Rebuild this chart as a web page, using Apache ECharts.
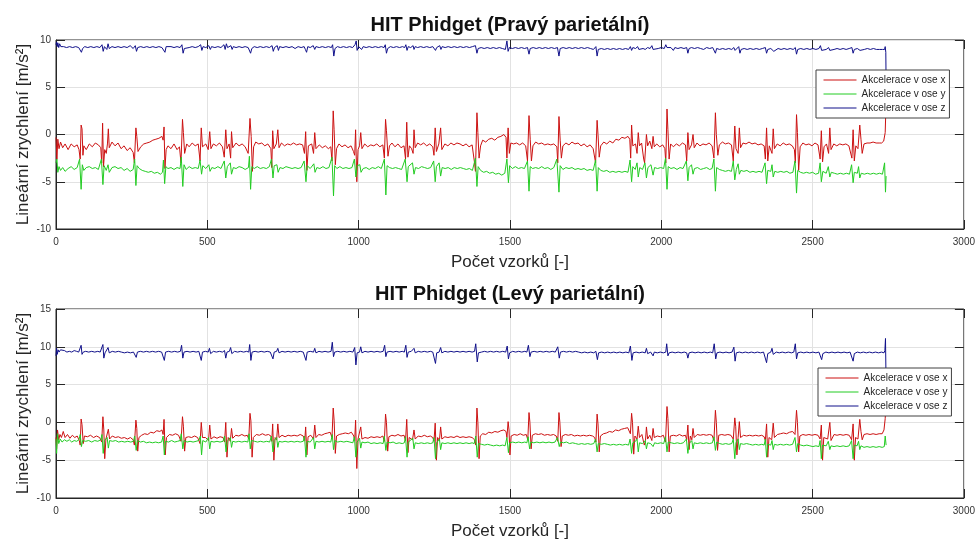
<!DOCTYPE html>
<html><head><meta charset="utf-8">
<script src="https://cdn.jsdelivr.net/npm/echarts@6/dist/echarts.min.js"></script>
<style>html,body{margin:0;padding:0;background:#fff}#c{width:978px;height:542px}</style>
</head><body><div id="c"></div>
<script>
// ---- labels ----
const TITLES = ['HIT Phidget (Pravý parietální)', 'HIT Phidget (Levý parietální)'];
const SERIES_NAMES = ['Akcelerace v ose x', 'Akcelerace v ose y', 'Akcelerace v ose z'];
const X_NAME = 'Počet vzorků [-]';
const Y_NAME = 'Lineární zrychlení [m/s²]';
const X_TICKS = [0, 500, 1000, 1500, 2000, 2500, 3000];
const Y_TICKS_TOP = [-10, -5, 0, 5, 10];
const Y_TICKS_BOT = [-10, -5, 0, 5, 10, 15];

// ---- top panel (Pravý parietální): [sample, value] ----
const TOP_X = [[0,-0.3],[3,-2.6],[6,-0.5],[10,-1.5],[15,-0.8],[22,-1.4],[30,-1.0],[40,-1.6],[50,-1.0],[60,-1.3],[70,-1.1],[76,-1.6],[80,-2.6],[83,1.0],[86,0.6],[89,-2.2],[92,-1.2],[100,-1.6],[110,-1.0],[120,-1.3],[130,-0.9],[140,-1.1],[148,-1.4],[151,-3.0],[154,1.2],[157,-3.4],[161,-1.6],[166,-2.0],[170,-1.0],[173,0.6],[176,-1.4],[185,-0.8],[195,-1.2],[205,-0.9],[215,-1.5],[225,-1.2],[235,-1.7],[245,-1.4],[255,-1.9],[259,-3.0],[264,0.7],[267,-0.2],[271,-1.8],[280,-1.3],[290,-1.0],[300,-0.9],[310,-0.8],[320,-0.6],[330,-0.5],[340,-0.4],[350,-0.2],[354,-0.6],[357,0.8],[360,-3.6],[364,-1.6],[370,-1.2],[380,-1.5],[390,-1.0],[400,-1.6],[408,-1.3],[413,-3.0],[418,1.6],[421,0.2],[425,-2.0],[432,-1.0],[440,-1.3],[450,-0.9],[460,-1.2],[470,-1.0],[476,-2.8],[480,0.7],[484,-1.3],[495,-1.0],[503,-1.6],[508,0.3],[512,-1.5],[520,-1.0],[530,-1.2],[540,-0.9],[550,-1.3],[556,-2.4],[561,0.5],[565,-1.5],[572,-1.0],[577,-2.5],[580,0.3],[584,-1.4],[595,-0.9],[605,-1.2],[615,-1.0],[625,-1.3],[635,-2.0],[641,1.7],[645,-0.2],[649,-3.9],[653,-1.3],[660,-0.8],[670,-1.0],[680,-0.9],[690,-1.2],[700,-1.0],[710,-1.5],[713,-3.5],[716,0.4],[720,-1.5],[728,-1.0],[733,0.5],[737,-1.4],[745,-0.9],[755,-1.2],[765,-1.0],[775,-1.1],[785,-0.9],[795,-1.1],[805,-1.0],[815,-1.1],[821,-2.0],[825,0.3],[829,-3.8],[834,-1.2],[845,-1.0],[851,-2.0],[855,0.2],[859,-1.5],[870,-1.1],[880,-1.4],[890,-1.2],[900,-1.5],[908,-1.3],[912,-2.8],[916,2.5],[919,0.5],[923,-3.2],[927,-1.5],[935,-1.0],[945,-1.3],[955,-1.1],[965,-1.4],[975,-1.2],[983,-1.8],[987,-2.2],[990,0.5],[994,-5.0],[998,-1.6],[1003,-1.2],[1007,0.2],[1011,-1.5],[1020,-1.0],[1030,-1.3],[1040,-1.1],[1050,-1.2],[1060,-1.0],[1070,-1.3],[1080,-1.1],[1085,-2.5],[1089,1.6],[1092,0.4],[1097,-2.3],[1102,-1.2],[1110,-0.9],[1120,-1.3],[1130,-1.0],[1140,-1.4],[1150,-1.2],[1155,-2.6],[1159,1.3],[1163,-2.4],[1168,-1.2],[1175,-1.5],[1180,-2.0],[1183,0.5],[1187,-1.4],[1195,-0.9],[1205,-1.1],[1215,-0.9],[1225,-1.2],[1235,-1.0],[1245,-1.3],[1249,-2.2],[1253,0.7],[1257,-1.8],[1265,-1.0],[1271,0.7],[1275,-1.6],[1285,-1.0],[1295,-1.2],[1305,-0.9],[1315,-1.1],[1325,-0.9],[1335,-1.0],[1345,-1.2],[1355,-1.0],[1365,-1.3],[1375,-1.1],[1383,-3.0],[1386,-3.9],[1391,2.3],[1394,0.2],[1398,-2.5],[1403,-1.2],[1410,-0.6],[1420,-0.8],[1430,-0.5],[1440,-0.4],[1450,-0.6],[1460,-0.3],[1470,-0.2],[1480,0.0],[1487,-0.3],[1490,-2.5],[1494,0.7],[1498,-2.0],[1503,-0.9],[1512,-1.0],[1522,-0.9],[1532,-1.1],[1542,-0.9],[1552,-1.2],[1558,-2.8],[1563,2.0],[1567,-0.5],[1571,-2.8],[1576,-1.2],[1585,-0.8],[1595,-1.0],[1605,-0.9],[1615,-1.1],[1625,-1.0],[1635,-1.1],[1645,-1.0],[1655,-1.3],[1658,-3.0],[1662,1.9],[1666,-0.6],[1670,-2.5],[1675,-1.2],[1685,-0.9],[1695,-1.1],[1705,-0.8],[1715,-1.0],[1725,-0.9],[1735,-1.2],[1745,-1.0],[1755,-1.3],[1765,-1.1],[1775,-1.5],[1783,-3.0],[1788,1.5],[1791,0.0],[1795,-2.4],[1800,-1.2],[1810,-0.8],[1820,-1.0],[1830,-0.7],[1840,-0.9],[1850,-0.5],[1860,-0.6],[1870,-0.3],[1880,-0.4],[1890,-0.2],[1896,-0.5],[1899,-2.5],[1902,1.0],[1906,-1.2],[1915,-1.0],[1920,-2.0],[1924,0.2],[1928,-1.2],[1935,-0.9],[1942,-2.6],[1945,-3.0],[1951,0.0],[1955,-1.2],[1962,-0.7],[1969,-1.5],[1973,-0.2],[1977,-1.3],[1985,-1.0],[1995,-1.3],[2005,-1.1],[2012,-1.5],[2015,-3.0],[2019,2.7],[2022,0.5],[2026,-2.6],[2031,-1.0],[2040,-1.3],[2050,-1.0],[2060,-1.2],[2070,-0.9],[2080,-1.1],[2084,-2.8],[2088,0.2],[2092,-1.6],[2100,-1.1],[2105,0.0],[2109,-1.4],[2118,-0.9],[2128,-1.2],[2138,-1.0],[2148,-1.1],[2158,-0.9],[2168,-1.2],[2174,-2.5],[2179,2.3],[2182,0.0],[2187,-2.2],[2192,-1.1],[2202,-0.8],[2212,-1.0],[2222,-0.9],[2232,-1.1],[2238,-2.8],[2243,0.9],[2247,-1.5],[2254,-2.0],[2258,0.7],[2262,-1.4],[2270,-0.9],[2280,-1.0],[2290,-0.8],[2300,-1.0],[2310,-0.9],[2320,-1.1],[2330,-1.0],[2340,-1.2],[2344,-2.6],[2348,0.7],[2352,-2.8],[2357,-1.2],[2366,-2.0],[2370,0.6],[2374,-1.5],[2383,-1.0],[2393,-1.2],[2403,-0.9],[2413,-1.1],[2423,-1.0],[2433,-1.2],[2440,-1.6],[2443,-3.0],[2447,2.1],[2450,0.2],[2454,-3.8],[2459,-1.3],[2468,-0.9],[2478,-1.1],[2488,-1.0],[2498,-1.2],[2508,-0.9],[2518,-1.1],[2525,-2.6],[2529,0.4],[2533,-2.9],[2538,-1.3],[2546,-1.0],[2553,-2.0],[2557,0.7],[2561,-1.6],[2570,-1.0],[2580,-1.2],[2590,-1.0],[2600,-1.1],[2610,-1.0],[2620,-1.2],[2630,-2.5],[2634,0.5],[2638,-2.8],[2643,-1.2],[2650,-1.5],[2656,1.0],[2660,-0.5],[2664,-2.0],[2670,-1.0],[2680,-0.9],[2690,-0.9],[2700,-0.8],[2710,-0.9],[2720,-0.9],[2728,-0.9],[2735,-0.7],[2740,0.2],[2743,3.5]];

const TOP_Y = [[0,-3.0],[3,-2.6],[6,-4.0],[10,-3.4],[15,-3.8],[22,-3.5],[30,-3.9],[40,-3.6],[50,-3.4],[60,-3.7],[70,-3.5],[78,-2.6],[83,-5.8],[87,-3.2],[92,-3.8],[100,-3.5],[110,-3.4],[120,-3.6],[130,-3.5],[140,-3.7],[150,-2.6],[155,-5.3],[159,-3.3],[166,-3.8],[172,-3.2],[176,-4.0],[185,-3.5],[195,-3.4],[205,-3.6],[215,-3.5],[225,-3.8],[235,-3.6],[245,-3.9],[255,-3.7],[260,-2.6],[264,-5.4],[268,-3.3],[275,-3.6],[285,-3.8],[295,-3.9],[305,-4.0],[315,-3.9],[325,-4.1],[335,-4.0],[345,-4.2],[352,-4.0],[355,-2.7],[359,-5.2],[363,-3.4],[370,-3.6],[380,-3.5],[390,-3.7],[400,-3.5],[410,-3.6],[414,-2.4],[419,-5.5],[423,-3.2],[430,-3.7],[440,-3.4],[450,-3.6],[460,-3.5],[470,-3.6],[476,-2.7],[481,-4.2],[485,-3.3],[495,-3.6],[505,-3.2],[509,-3.9],[515,-3.5],[525,-3.6],[535,-3.4],[545,-3.6],[556,-2.8],[561,-4.6],[566,-3.4],[576,-3.0],[580,-4.2],[586,-3.5],[595,-3.6],[605,-3.4],[615,-3.5],[625,-3.7],[636,-3.5],[639,-2.3],[643,-5.8],[647,-3.4],[655,-3.6],[665,-3.4],[675,-3.6],[685,-3.5],[695,-3.6],[705,-3.4],[712,-2.6],[717,-4.6],[721,-3.3],[730,-3.2],[734,-4.0],[740,-3.5],[750,-3.6],[760,-3.4],[770,-3.5],[780,-3.6],[790,-3.5],[800,-3.6],[810,-3.5],[820,-2.8],[826,-5.0],[830,-3.3],[840,-3.6],[852,-3.1],[856,-4.0],[862,-3.5],[872,-3.6],[882,-3.4],[892,-3.6],[902,-3.5],[912,-2.4],[917,-6.5],[921,-3.3],[928,-3.6],[938,-3.4],[948,-3.6],[958,-3.5],[968,-3.6],[978,-3.5],[986,-2.6],[991,-4.5],[995,-3.3],[1004,-3.2],[1008,-4.0],[1015,-3.6],[1025,-3.5],[1035,-3.7],[1045,-3.5],[1055,-3.6],[1065,-3.4],[1075,-3.6],[1085,-2.6],[1090,-6.4],[1094,-3.3],[1102,-3.5],[1112,-3.6],[1122,-3.5],[1132,-3.6],[1142,-3.7],[1154,-2.6],[1160,-5.0],[1164,-3.4],[1178,-3.0],[1183,-4.2],[1188,-3.5],[1198,-3.6],[1208,-3.4],[1218,-3.5],[1228,-3.6],[1238,-3.5],[1248,-2.8],[1253,-5.0],[1257,-3.4],[1266,-3.0],[1271,-4.4],[1276,-3.5],[1286,-3.6],[1296,-3.5],[1306,-3.7],[1316,-3.5],[1326,-3.6],[1336,-3.5],[1346,-3.6],[1356,-3.7],[1366,-3.6],[1376,-3.8],[1386,-2.5],[1391,-5.5],[1395,-3.4],[1403,-3.8],[1413,-4.0],[1423,-3.9],[1433,-4.1],[1443,-4.0],[1453,-4.2],[1463,-4.1],[1473,-4.3],[1483,-4.1],[1490,-2.6],[1495,-5.1],[1499,-3.3],[1508,-3.6],[1518,-3.4],[1528,-3.6],[1538,-3.5],[1548,-3.6],[1558,-2.8],[1563,-6.0],[1567,-3.4],[1575,-3.6],[1585,-3.5],[1595,-3.6],[1605,-3.4],[1615,-3.6],[1625,-3.5],[1635,-3.7],[1645,-3.5],[1655,-2.6],[1662,-6.1],[1666,-3.3],[1675,-3.7],[1685,-3.5],[1695,-3.6],[1705,-3.5],[1715,-3.7],[1725,-3.6],[1735,-3.7],[1745,-3.6],[1755,-3.8],[1765,-3.7],[1775,-3.8],[1783,-2.7],[1788,-6.0],[1792,-3.5],[1800,-3.8],[1810,-3.9],[1820,-3.8],[1830,-4.0],[1840,-3.9],[1850,-4.0],[1860,-3.9],[1870,-4.0],[1880,-3.9],[1890,-4.0],[1897,-2.7],[1902,-5.0],[1906,-3.4],[1914,-3.7],[1920,-3.0],[1924,-4.5],[1929,-3.5],[1938,-3.7],[1946,-3.0],[1951,-4.6],[1956,-3.5],[1966,-3.2],[1973,-4.3],[1978,-3.5],[1988,-3.6],[1998,-3.5],[2008,-3.6],[2014,-2.5],[2019,-5.8],[2023,-3.4],[2032,-3.6],[2042,-3.5],[2052,-3.7],[2062,-3.5],[2072,-3.6],[2083,-2.8],[2088,-4.9],[2092,-3.5],[2100,-3.2],[2105,-4.2],[2110,-3.6],[2120,-3.5],[2130,-3.7],[2140,-3.6],[2150,-3.5],[2160,-3.7],[2168,-3.6],[2174,-2.6],[2179,-6.0],[2183,-3.5],[2192,-3.7],[2202,-3.8],[2212,-3.9],[2222,-3.8],[2232,-3.9],[2238,-2.8],[2243,-4.8],[2248,-3.7],[2254,-3.1],[2258,-4.2],[2263,-3.8],[2273,-3.9],[2283,-3.8],[2293,-4.0],[2303,-3.9],[2313,-4.0],[2323,-3.9],[2333,-4.0],[2343,-3.0],[2348,-5.2],[2352,-3.8],[2362,-3.9],[2366,-3.2],[2370,-4.5],[2375,-3.9],[2385,-4.0],[2395,-3.9],[2405,-4.0],[2415,-3.9],[2425,-4.1],[2435,-4.0],[2442,-2.8],[2447,-6.2],[2451,-3.8],[2460,-4.0],[2470,-4.1],[2480,-4.0],[2490,-4.1],[2500,-4.0],[2510,-4.2],[2520,-4.1],[2525,-3.0],[2529,-5.0],[2534,-3.9],[2545,-4.1],[2552,-3.4],[2557,-4.5],[2562,-4.0],[2572,-4.1],[2582,-4.2],[2592,-4.1],[2602,-4.2],[2612,-4.1],[2622,-4.2],[2629,-3.2],[2634,-5.1],[2638,-4.0],[2648,-4.1],[2652,-3.4],[2656,-4.6],[2661,-4.1],[2671,-4.2],[2681,-4.1],[2691,-4.2],[2701,-4.1],[2711,-4.2],[2721,-4.1],[2731,-4.2],[2738,-3.0],[2741,-6.1],[2743,-4.4]];

const TOP_Z = [[0,9.5],[2,9.8],[4,9.3],[6,9.7],[9,9.2],[12,9.6],[16,9.3],[25,9.3],[35,9.2],[45,9.3],[55,9.2],[65,9.3],[75,9.2],[80,9.4],[84,8.7],[88,9.1],[95,9.3],[105,9.2],[115,9.3],[125,9.2],[135,9.3],[145,9.2],[152,9.5],[156,8.8],[160,9.3],[168,9.0],[172,9.6],[176,9.1],[185,9.3],[195,9.2],[205,9.3],[215,9.2],[225,9.3],[235,9.2],[245,9.4],[255,9.1],[262,9.4],[266,8.8],[270,9.2],[280,9.3],[290,9.2],[300,9.3],[310,9.2],[320,9.3],[330,9.2],[340,9.3],[350,9.2],[356,9.3],[360,8.7],[364,9.3],[370,9.2],[380,9.3],[390,9.2],[400,9.3],[410,9.2],[416,9.5],[420,8.6],[424,9.1],[430,9.3],[440,9.2],[450,9.3],[460,9.2],[470,9.3],[478,9.5],[482,8.9],[486,9.3],[495,9.2],[505,9.4],[510,9.0],[514,9.3],[525,9.2],[535,9.3],[545,9.2],[555,9.5],[559,9.0],[563,9.6],[567,9.2],[578,9.4],[582,9.0],[586,9.3],[595,9.2],[605,9.3],[615,9.2],[625,9.3],[635,9.2],[639,9.4],[643,8.6],[647,9.1],[655,9.3],[665,9.2],[675,9.3],[685,9.2],[695,9.3],[705,9.2],[714,9.4],[718,8.8],[722,9.2],[731,9.4],[735,8.9],[739,9.3],[750,9.2],[760,9.3],[770,9.2],[780,9.3],[790,9.1],[800,9.3],[810,9.2],[820,9.3],[824,9.0],[828,8.7],[832,9.3],[840,9.2],[850,9.4],[855,9.0],[859,9.3],[870,9.2],[880,9.3],[890,9.2],[900,9.3],[910,9.2],[914,9.5],[918,8.3],[922,9.1],[930,9.3],[940,9.2],[950,9.3],[960,9.2],[970,9.3],[980,9.2],[988,9.5],[992,9.9],[995,8.9],[1000,9.3],[1006,9.4],[1010,9.0],[1015,9.3],[1025,9.2],[1035,9.3],[1045,9.2],[1055,9.3],[1065,9.2],[1075,9.3],[1084,9.2],[1088,9.5],[1092,8.6],[1096,9.1],[1105,9.3],[1115,9.2],[1125,9.3],[1135,9.2],[1145,9.3],[1152,9.2],[1156,9.5],[1160,8.9],[1164,9.3],[1172,9.2],[1180,9.4],[1183,9.0],[1187,9.3],[1195,9.2],[1205,9.3],[1215,9.2],[1225,9.3],[1235,9.2],[1245,9.3],[1250,9.5],[1254,8.9],[1258,9.2],[1268,9.4],[1272,9.0],[1276,9.3],[1286,9.2],[1296,9.3],[1306,9.2],[1316,9.3],[1326,9.2],[1336,9.3],[1346,9.2],[1356,9.3],[1366,9.2],[1376,9.3],[1386,9.4],[1391,8.6],[1395,9.1],[1405,9.2],[1415,9.1],[1425,9.2],[1435,9.1],[1445,9.2],[1455,9.1],[1465,9.2],[1475,9.1],[1485,9.0],[1490,9.9],[1494,8.8],[1498,9.2],[1508,9.1],[1518,9.2],[1528,9.1],[1538,9.2],[1548,9.1],[1558,9.2],[1563,8.5],[1567,9.1],[1577,9.2],[1587,9.1],[1597,9.2],[1607,9.1],[1617,9.2],[1627,9.1],[1637,9.2],[1647,9.1],[1657,9.2],[1662,8.3],[1666,9.1],[1676,9.2],[1686,9.1],[1696,9.2],[1706,9.1],[1716,9.2],[1726,9.1],[1736,9.2],[1746,9.1],[1756,9.2],[1766,9.1],[1776,9.0],[1784,9.3],[1788,8.3],[1792,9.0],[1802,9.1],[1812,9.0],[1822,9.1],[1832,9.0],[1842,9.1],[1852,9.0],[1862,9.1],[1872,9.0],[1882,9.1],[1892,9.0],[1898,9.3],[1902,8.9],[1906,9.2],[1915,9.1],[1922,9.3],[1926,9.0],[1932,9.2],[1940,9.1],[1947,9.0],[1951,8.8],[1955,9.2],[1963,9.1],[1969,9.4],[1973,9.0],[1977,9.2],[1990,9.1],[2000,9.2],[2010,9.1],[2015,9.5],[2019,9.2],[2024,9.1],[2032,9.2],[2040,8.9],[2045,9.2],[2055,9.1],[2065,9.2],[2075,9.1],[2084,9.2],[2088,8.6],[2092,9.1],[2100,9.2],[2110,9.1],[2120,9.2],[2130,9.1],[2140,9.0],[2150,9.2],[2160,9.1],[2170,9.2],[2175,9.3],[2179,8.6],[2183,9.1],[2193,9.0],[2203,9.1],[2213,9.0],[2223,9.1],[2233,9.0],[2240,9.2],[2244,8.9],[2250,9.1],[2256,9.3],[2260,8.6],[2264,9.0],[2274,9.1],[2284,9.0],[2294,9.1],[2304,9.0],[2314,9.1],[2324,9.0],[2334,9.1],[2344,9.2],[2348,8.6],[2352,9.0],[2362,9.1],[2368,9.3],[2372,8.8],[2376,9.0],[2386,9.1],[2396,9.0],[2406,9.1],[2416,9.0],[2426,9.1],[2436,9.0],[2443,9.2],[2447,8.5],[2451,9.0],[2461,9.1],[2471,9.0],[2481,9.1],[2491,9.0],[2501,9.1],[2511,9.0],[2521,9.1],[2526,9.4],[2530,8.9],[2534,9.1],[2545,9.0],[2553,9.2],[2557,8.9],[2561,9.1],[2571,9.0],[2581,9.1],[2591,9.0],[2601,9.1],[2611,9.0],[2621,9.1],[2630,9.2],[2634,8.6],[2638,9.0],[2648,9.1],[2653,9.3],[2657,8.9],[2661,9.1],[2671,9.0],[2681,9.1],[2691,9.0],[2701,9.1],[2711,9.0],[2721,9.0],[2731,9.0],[2738,9.0],[2740,9.3],[2742,8.7],[2743,5.5]];

// ---- bottom panel (Levý parietální): [sample, value] ----
const BOT_X = [[0,-2.0],[2,-3.5],[5,-1.0],[9,-2.3],[13,-1.6],[18,-2.0],[24,-1.2],[30,-2.0],[38,-1.6],[46,-2.1],[54,-1.7],[62,-2.0],[70,-1.8],[77,-2.4],[80,-3.0],[83,0.45],[86,-0.3],[90,-2.8],[94,-1.8],[104,-1.9],[114,-1.7],[124,-2.0],[134,-1.8],[144,-2.0],[151,-2.6],[155,0.75],[158,-1.0],[161,-4.8],[165,-2.2],[170,-2.4],[173,-0.9],[177,-2.2],[186,-1.8],[196,-2.0],[206,-1.9],[216,-2.1],[226,-2.0],[236,-2.2],[246,-2.0],[255,-2.3],[259,-3.0],[264,0.3],[267,-0.8],[270,-3.8],[274,-2.0],[283,-1.7],[293,-1.5],[303,-1.6],[313,-1.3],[323,-1.4],[333,-1.1],[343,-1.2],[350,-1.0],[354,-1.6],[357,0.4],[361,-4.3],[365,-2.0],[375,-1.6],[385,-1.7],[395,-1.5],[405,-1.7],[413,-2.5],[418,0.75],[421,-0.5],[425,-3.8],[429,-2.0],[438,-1.9],[448,-2.0],[458,-1.8],[468,-2.0],[476,-2.8],[480,0.0],[484,-2.0],[494,-2.0],[504,-2.4],[508,-0.35],[512,-2.2],[522,-1.9],[532,-2.1],[542,-1.9],[552,-2.0],[557,-2.6],[561,0.0],[565,-4.6],[569,-2.0],[576,-2.5],[580,-0.8],[584,-2.1],[594,-1.7],[604,-1.8],[614,-1.6],[624,-1.8],[632,-1.7],[637,-2.2],[641,1.2],[644,0.2],[648,-4.6],[652,-2.0],[662,-1.6],[672,-1.7],[682,-1.5],[692,-1.7],[702,-1.6],[710,-1.8],[713,-2.5],[716,-0.2],[720,-5.0],[724,-2.0],[729,-2.3],[733,-0.2],[737,-2.0],[747,-1.7],[757,-1.9],[767,-1.7],[777,-1.8],[787,-1.7],[797,-1.8],[807,-1.6],[817,-1.8],[822,-2.4],[825,-0.6],[829,-4.3],[833,-1.9],[842,-1.7],[851,-2.2],[855,-0.35],[859,-2.0],[868,-1.6],[878,-1.7],[888,-1.5],[898,-1.4],[906,-1.3],[912,-2.0],[916,1.9],[919,0.3],[923,-4.1],[927,-1.8],[936,-1.6],[946,-1.5],[956,-1.4],[966,-1.5],[976,-1.3],[984,-1.8],[987,-2.4],[990,0.3],[994,-6.1],[998,-2.2],[1003,-2.4],[1007,-0.6],[1011,-2.2],[1021,-2.0],[1031,-2.1],[1041,-1.9],[1051,-2.0],[1061,-1.9],[1071,-2.0],[1080,-1.8],[1085,-2.5],[1089,1.1],[1092,0.0],[1096,-3.8],[1100,-1.9],[1110,-1.7],[1120,-1.8],[1130,-1.6],[1140,-1.8],[1150,-1.7],[1155,-2.4],[1159,0.4],[1163,-4.0],[1167,-2.0],[1178,-2.3],[1183,-1.0],[1187,-2.2],[1197,-1.8],[1207,-1.9],[1217,-1.7],[1227,-1.9],[1237,-1.8],[1245,-2.0],[1249,-2.5],[1253,-0.1],[1257,-5.0],[1261,-2.0],[1267,-2.4],[1271,-0.6],[1275,-2.2],[1285,-1.9],[1295,-2.0],[1305,-1.9],[1315,-2.0],[1325,-1.8],[1335,-2.0],[1345,-1.9],[1355,-2.0],[1365,-1.9],[1375,-2.0],[1383,-2.3],[1387,-3.0],[1391,1.9],[1394,0.0],[1398,-4.8],[1402,-1.8],[1410,-1.5],[1420,-1.6],[1430,-1.3],[1440,-1.4],[1450,-1.2],[1460,-1.3],[1470,-1.1],[1480,-1.0],[1487,-1.2],[1490,-2.0],[1494,0.1],[1497,-1.0],[1500,-4.3],[1504,-1.8],[1514,-1.6],[1524,-1.7],[1534,-1.5],[1544,-1.7],[1554,-1.6],[1559,-2.3],[1563,1.3],[1566,0.0],[1570,-3.5],[1574,-1.7],[1584,-1.5],[1594,-1.6],[1604,-1.5],[1614,-1.7],[1624,-1.6],[1634,-1.7],[1644,-1.6],[1653,-1.8],[1658,-2.5],[1662,1.3],[1665,0.0],[1669,-3.2],[1673,-1.8],[1683,-1.6],[1693,-1.7],[1703,-1.6],[1713,-1.8],[1723,-1.7],[1733,-1.8],[1743,-1.7],[1753,-1.8],[1763,-1.7],[1773,-1.8],[1780,-2.0],[1784,-2.6],[1788,1.1],[1791,-0.2],[1795,-3.9],[1799,-1.8],[1809,-1.5],[1819,-1.4],[1829,-1.2],[1839,-1.3],[1849,-1.0],[1859,-1.1],[1869,-0.9],[1879,-0.8],[1889,-0.7],[1895,-0.6],[1898,-1.5],[1902,1.2],[1905,0.0],[1909,-4.2],[1913,-1.8],[1920,-2.2],[1924,-0.5],[1928,-2.0],[1936,-1.6],[1944,-3.0],[1948,-2.4],[1951,-0.6],[1955,-2.2],[1962,-1.7],[1969,-2.4],[1973,-0.8],[1977,-2.0],[1987,-1.8],[1997,-1.9],[2007,-1.7],[2014,-2.6],[2019,2.1],[2022,0.5],[2026,-3.9],[2030,-1.8],[2040,-1.7],[2050,-1.8],[2060,-1.6],[2070,-1.8],[2080,-1.7],[2084,-2.3],[2088,-0.35],[2092,-3.6],[2096,-1.8],[2101,-2.3],[2105,-0.8],[2109,-2.0],[2119,-1.6],[2129,-1.7],[2139,-1.6],[2149,-1.7],[2159,-1.6],[2168,-1.7],[2174,-2.4],[2179,1.6],[2182,0.0],[2186,-3.7],[2190,-1.7],[2200,-1.6],[2210,-1.7],[2220,-1.6],[2230,-1.7],[2238,-2.2],[2243,0.6],[2246,-0.5],[2250,-4.3],[2254,-2.0],[2258,0.1],[2262,-2.0],[2272,-1.7],[2282,-1.8],[2292,-1.7],[2302,-1.8],[2312,-1.7],[2322,-1.8],[2332,-1.7],[2340,-1.9],[2344,-2.4],[2348,-0.2],[2352,-4.6],[2356,-2.0],[2365,-2.3],[2370,-0.1],[2374,-2.0],[2384,-1.6],[2394,-1.5],[2404,-1.4],[2414,-1.5],[2424,-1.3],[2434,-1.2],[2442,-1.6],[2447,1.6],[2450,0.0],[2454,-3.9],[2458,-1.8],[2468,-1.6],[2478,-1.7],[2488,-1.6],[2498,-1.7],[2508,-1.6],[2518,-1.7],[2525,-2.2],[2529,-0.35],[2533,-5.0],[2537,-2.0],[2550,-2.2],[2557,0.0],[2561,-2.4],[2571,-1.6],[2581,-1.7],[2591,-1.6],[2601,-1.7],[2611,-1.6],[2621,-1.7],[2629,-2.3],[2634,-0.2],[2638,-5.0],[2642,-2.0],[2650,-2.2],[2656,0.4],[2660,-1.2],[2664,-2.3],[2670,-1.6],[2680,-1.5],[2690,-1.6],[2700,-1.5],[2710,-1.6],[2720,-1.5],[2730,-1.5],[2736,-1.0],[2740,0.5],[2743,3.0]];

const BOT_Y = [[0,-2.2],[2,-4.1],[5,-1.5],[9,-2.8],[14,-2.2],[20,-2.6],[28,-2.3],[36,-2.5],[44,-2.3],[52,-2.6],[60,-2.4],[68,-2.5],[76,-2.3],[80,-1.6],[84,-3.2],[88,-2.4],[98,-2.5],[108,-2.4],[118,-2.6],[128,-2.4],[138,-2.5],[148,-2.3],[152,-1.6],[156,-4.1],[160,-2.4],[169,-2.0],[173,-3.4],[177,-2.4],[187,-2.5],[197,-2.4],[207,-2.6],[217,-2.5],[227,-2.6],[237,-2.5],[247,-2.6],[256,-2.5],[260,-1.8],[265,-3.7],[269,-2.4],[279,-2.6],[289,-2.5],[299,-2.7],[309,-2.6],[319,-2.7],[329,-2.6],[339,-2.7],[349,-2.6],[354,-1.8],[358,-4.3],[362,-2.5],[372,-2.6],[382,-2.4],[392,-2.6],[402,-2.5],[410,-2.4],[414,-1.5],[419,-3.5],[423,-2.4],[433,-2.6],[443,-2.5],[453,-2.6],[463,-2.5],[472,-2.4],[477,-1.8],[481,-4.3],[485,-2.4],[495,-2.6],[504,-2.0],[508,-3.5],[512,-2.5],[522,-2.6],[532,-2.5],[542,-2.6],[552,-2.5],[557,-1.8],[562,-3.9],[566,-2.5],[576,-2.0],[580,-3.3],[584,-2.5],[594,-2.6],[604,-2.5],[614,-2.6],[624,-2.5],[634,-2.6],[638,-1.5],[642,-3.5],[646,-2.4],[656,-2.5],[666,-2.6],[676,-2.5],[686,-2.6],[696,-2.5],[706,-2.6],[712,-1.8],[717,-3.9],[721,-2.4],[729,-2.0],[733,-3.3],[737,-2.5],[747,-2.6],[757,-2.5],[767,-2.6],[777,-2.5],[787,-2.6],[797,-2.5],[807,-2.6],[817,-2.5],[821,-1.8],[826,-4.6],[830,-2.5],[840,-2.6],[851,-2.0],[855,-3.5],[859,-2.5],[869,-2.6],[879,-2.5],[889,-2.6],[899,-2.5],[908,-2.6],[913,-1.6],[917,-3.6],[921,-2.4],[931,-2.6],[941,-2.5],[951,-2.6],[961,-2.5],[971,-2.6],[981,-2.7],[986,-1.9],[991,-4.6],[995,-2.6],[1003,-2.1],[1007,-3.4],[1011,-2.6],[1021,-2.7],[1031,-2.6],[1041,-2.8],[1051,-2.7],[1061,-2.8],[1071,-2.7],[1081,-2.8],[1085,-1.8],[1090,-3.7],[1094,-2.6],[1104,-2.7],[1114,-2.6],[1124,-2.8],[1134,-2.7],[1144,-2.8],[1151,-2.7],[1155,-1.9],[1160,-4.6],[1164,-2.6],[1179,-2.1],[1183,-3.5],[1187,-2.7],[1197,-2.8],[1207,-2.7],[1217,-2.8],[1227,-2.7],[1237,-2.8],[1245,-2.7],[1249,-2.0],[1254,-4.8],[1258,-2.7],[1267,-2.2],[1271,-3.6],[1275,-2.7],[1285,-2.8],[1295,-2.7],[1305,-2.8],[1315,-2.7],[1325,-2.8],[1335,-2.7],[1345,-2.8],[1355,-2.7],[1365,-2.8],[1375,-2.7],[1382,-2.8],[1387,-1.8],[1392,-4.6],[1396,-2.8],[1406,-2.9],[1416,-3.0],[1426,-2.9],[1436,-3.0],[1446,-3.1],[1456,-3.0],[1466,-3.1],[1476,-3.0],[1484,-3.1],[1490,-2.0],[1495,-4.0],[1499,-2.7],[1509,-2.6],[1519,-2.7],[1529,-2.6],[1539,-2.7],[1549,-2.6],[1556,-2.7],[1560,-1.9],[1565,-3.5],[1569,-2.6],[1579,-2.7],[1589,-2.6],[1599,-2.7],[1609,-2.6],[1619,-2.7],[1629,-2.6],[1639,-2.7],[1649,-2.6],[1657,-2.0],[1663,-3.2],[1667,-2.6],[1677,-2.7],[1687,-2.6],[1697,-2.8],[1707,-2.7],[1717,-2.8],[1727,-2.9],[1737,-2.8],[1747,-2.9],[1757,-2.8],[1767,-2.9],[1777,-2.8],[1783,-2.2],[1788,-3.9],[1792,-2.8],[1802,-2.9],[1812,-2.8],[1822,-2.9],[1832,-3.0],[1842,-2.9],[1852,-3.0],[1862,-2.9],[1872,-3.0],[1882,-2.9],[1892,-3.0],[1897,-2.2],[1902,-4.1],[1906,-2.7],[1915,-2.5],[1920,-2.2],[1924,-3.9],[1928,-2.7],[1938,-2.8],[1947,-2.4],[1951,-3.5],[1955,-2.7],[1965,-2.8],[1973,-3.2],[1978,-2.7],[1988,-2.8],[1998,-2.7],[2008,-2.8],[2014,-1.9],[2019,-3.9],[2023,-2.6],[2033,-2.7],[2043,-2.8],[2053,-2.7],[2063,-2.8],[2073,-2.7],[2083,-2.2],[2088,-4.1],[2092,-2.8],[2101,-2.4],[2105,-3.5],[2109,-2.7],[2119,-2.8],[2129,-2.7],[2139,-2.8],[2149,-2.7],[2159,-2.8],[2169,-2.7],[2174,-1.9],[2179,-3.7],[2183,-2.6],[2193,-2.8],[2203,-2.9],[2213,-2.8],[2223,-2.9],[2233,-2.8],[2238,-2.2],[2243,-4.8],[2247,-2.7],[2254,-2.2],[2258,-3.6],[2262,-2.8],[2272,-2.9],[2282,-2.8],[2292,-2.9],[2302,-3.0],[2312,-2.9],[2322,-3.0],[2332,-2.9],[2340,-3.0],[2344,-2.2],[2348,-4.6],[2352,-2.9],[2362,-3.0],[2366,-2.4],[2370,-3.6],[2374,-2.9],[2384,-3.0],[2394,-2.9],[2404,-3.0],[2414,-2.9],[2424,-3.0],[2434,-2.9],[2442,-2.0],[2447,-3.9],[2451,-2.8],[2461,-3.0],[2471,-3.1],[2481,-3.0],[2491,-3.1],[2501,-3.2],[2511,-3.1],[2521,-3.2],[2525,-2.4],[2529,-4.8],[2533,-3.0],[2545,-3.1],[2552,-2.5],[2557,-3.6],[2561,-3.1],[2571,-3.2],[2581,-3.1],[2591,-3.2],[2601,-3.1],[2611,-3.2],[2621,-3.1],[2629,-2.4],[2634,-4.8],[2638,-3.0],[2647,-3.1],[2652,-2.5],[2656,-3.6],[2660,-3.1],[2670,-3.3],[2680,-3.2],[2690,-3.3],[2700,-3.2],[2710,-3.3],[2720,-3.2],[2730,-3.3],[2737,-3.2],[2740,-1.8],[2743,-3.0]];

const BOT_Z = [[0,8.8],[2,9.8],[4,9.0],[7,9.6],[10,9.3],[15,9.6],[20,9.4],[28,9.5],[36,9.3],[44,9.4],[52,9.3],[60,9.5],[68,9.4],[75,9.3],[80,9.5],[83,10.2],[86,9.0],[90,9.3],[98,9.4],[108,9.3],[118,9.4],[128,9.3],[138,9.4],[146,9.3],[152,9.5],[155,10.3],[158,8.5],[162,9.2],[168,9.4],[172,9.9],[176,9.2],[186,9.4],[196,9.3],[206,9.4],[216,9.3],[226,9.2],[236,9.3],[246,9.2],[256,9.3],[261,9.5],[265,8.6],[269,9.3],[279,9.4],[289,9.3],[299,9.4],[309,9.3],[319,9.4],[329,9.3],[339,9.4],[349,9.3],[354,9.5],[358,8.2],[362,9.3],[372,9.4],[382,9.3],[392,9.4],[402,9.3],[411,9.4],[415,10.2],[419,8.5],[423,9.3],[433,9.4],[443,9.3],[453,9.4],[463,9.3],[472,9.4],[476,9.6],[480,8.2],[484,9.3],[494,9.4],[503,9.3],[507,9.8],[511,9.1],[520,9.4],[530,9.3],[540,9.4],[550,9.3],[557,9.5],[561,8.5],[565,9.3],[573,9.4],[577,9.9],[581,9.1],[590,9.4],[600,9.3],[610,9.4],[620,9.3],[630,9.4],[637,9.3],[640,10.3],[644,8.2],[648,9.3],[658,9.4],[668,9.3],[678,9.4],[688,9.3],[698,9.4],[708,9.3],[713,9.5],[717,8.4],[721,9.3],[729,9.4],[733,9.8],[737,9.2],[747,9.4],[757,9.3],[767,9.4],[777,9.3],[787,9.4],[797,9.3],[807,9.4],[817,9.3],[822,9.5],[826,8.2],[830,9.3],[840,9.4],[851,9.3],[855,9.8],[859,9.2],[869,9.4],[879,9.3],[889,9.4],[899,9.3],[909,9.4],[913,10.6],[917,8.7],[921,9.3],[931,9.4],[941,9.3],[951,9.4],[961,9.3],[971,9.4],[981,9.3],[987,9.9],[991,7.6],[995,9.2],[1003,9.3],[1007,10.0],[1011,9.2],[1021,9.4],[1031,9.3],[1041,9.4],[1051,9.3],[1061,9.4],[1071,9.3],[1081,9.4],[1086,10.2],[1090,8.7],[1094,9.3],[1104,9.4],[1114,9.3],[1124,9.4],[1134,9.3],[1144,9.4],[1151,9.3],[1156,10.2],[1160,8.6],[1164,9.3],[1174,9.4],[1180,9.3],[1183,9.8],[1187,9.2],[1197,9.4],[1207,9.3],[1217,9.4],[1227,9.3],[1237,9.4],[1245,9.3],[1250,9.5],[1254,7.8],[1258,9.2],[1266,9.3],[1271,9.9],[1275,9.2],[1285,9.4],[1295,9.3],[1305,9.4],[1315,9.3],[1325,9.4],[1335,9.3],[1345,9.4],[1355,9.3],[1365,9.4],[1375,9.3],[1383,9.4],[1387,10.4],[1392,8.0],[1396,9.2],[1406,9.3],[1416,9.4],[1426,9.3],[1436,9.4],[1446,9.3],[1456,9.4],[1466,9.3],[1476,9.4],[1486,9.3],[1491,10.1],[1495,8.4],[1499,9.2],[1509,9.4],[1519,9.3],[1529,9.4],[1539,9.3],[1549,9.4],[1556,9.3],[1561,10.2],[1566,8.7],[1570,9.3],[1580,9.4],[1590,9.3],[1600,9.4],[1610,9.3],[1620,9.4],[1630,9.3],[1640,9.4],[1650,9.3],[1658,10.0],[1663,8.5],[1667,9.3],[1677,9.4],[1687,9.3],[1697,9.4],[1707,9.3],[1717,9.4],[1727,9.3],[1737,9.2],[1747,9.3],[1757,9.2],[1767,9.3],[1777,9.2],[1784,9.4],[1789,8.3],[1793,9.2],[1803,9.3],[1813,9.2],[1823,9.3],[1833,9.2],[1843,9.3],[1853,9.2],[1863,9.3],[1873,9.2],[1883,9.3],[1893,9.2],[1898,10.1],[1903,8.2],[1907,9.2],[1917,9.3],[1927,9.2],[1937,9.3],[1947,9.2],[1951,9.8],[1955,9.1],[1965,9.3],[1973,8.8],[1977,9.3],[1987,9.2],[1997,9.3],[2007,9.2],[2015,9.3],[2018,10.4],[2022,8.8],[2026,9.2],[2036,9.3],[2046,9.2],[2056,9.3],[2066,9.2],[2076,9.3],[2084,9.2],[2088,8.5],[2092,9.2],[2102,9.3],[2112,9.2],[2122,9.3],[2132,9.2],[2142,9.3],[2152,9.2],[2162,9.3],[2170,9.2],[2175,10.4],[2180,8.4],[2184,9.2],[2194,9.3],[2204,9.2],[2214,9.3],[2224,9.2],[2234,9.3],[2240,9.95],[2244,8.1],[2248,9.2],[2258,9.3],[2268,9.2],[2278,9.3],[2288,9.2],[2298,9.3],[2308,9.2],[2318,9.3],[2328,9.2],[2338,9.3],[2344,9.2],[2348,7.9],[2352,9.1],[2362,9.3],[2366,9.8],[2370,9.0],[2380,9.3],[2390,9.2],[2400,9.3],[2410,9.2],[2420,9.3],[2430,9.2],[2438,9.3],[2443,10.4],[2447,8.4],[2451,9.2],[2461,9.3],[2471,9.2],[2481,9.3],[2491,9.2],[2501,9.3],[2511,9.2],[2521,9.3],[2526,9.2],[2530,8.3],[2534,9.1],[2544,9.3],[2554,9.2],[2564,9.3],[2574,9.2],[2584,9.3],[2594,9.2],[2604,9.3],[2614,9.2],[2624,9.3],[2630,9.2],[2634,8.1],[2638,9.1],[2648,9.3],[2658,9.2],[2668,9.3],[2678,9.2],[2688,9.3],[2698,9.2],[2708,9.3],[2718,9.2],[2728,9.3],[2736,9.2],[2739,9.5],[2741,11.1],[2743,5.0]];

// ---- rendering ----
const COLORS = ['#cc1111', '#22cc22', '#10108a'];
const FONT = 'Liberation Sans, Arial, Helvetica, sans-serif';
const AX = '#262626';
const GRIDS = [{left:56, top:40, width:908, height:189}, {left:56, top:309, width:908, height:189}];
const YRANGES = [[Y_TICKS_TOP[0], Y_TICKS_TOP[Y_TICKS_TOP.length-1]], [Y_TICKS_BOT[0], Y_TICKS_BOT[Y_TICKS_BOT.length-1]]];
const XRANGE = [X_TICKS[0], X_TICKS[X_TICKS.length-1]];
const STEP = 5, XSTEP = 500;
const fmt = v => String(v);

const chart = echarts.init(document.getElementById('c'), null, {renderer:'canvas'});
const xAxes = [], yAxes = [];
GRIDS.forEach((g, gi) => {
  xAxes.push({gridIndex:gi, type:'value', min:XRANGE[0], max:XRANGE[1], interval:XSTEP, position:'bottom',
    axisLine:{show:true, onZero:false, lineStyle:{color:AX, width:1}},
    axisTick:{inside:true, length:9, lineStyle:{color:AX}},
    axisLabel:{fontFamily:FONT, fontSize:10, color:'#333', margin:8, formatter:fmt},
    splitLine:{show:true, lineStyle:{color:'#e2e2e2', width:1}},
    name:X_NAME, nameLocation:'middle', nameGap:25, nameMoveOverlap:false,
    nameTextStyle:{fontFamily:FONT, fontSize:17, color:AX}});
  xAxes.push({gridIndex:gi, type:'value', min:XRANGE[0], max:XRANGE[1], interval:XSTEP, position:'top',
    axisLine:{show:false, onZero:false}, axisTick:{inside:true, length:9, lineStyle:{color:AX}},
    axisLabel:{show:false}, splitLine:{show:false}});
  yAxes.push({gridIndex:gi, type:'value', min:YRANGES[gi][0], max:YRANGES[gi][1], interval:STEP, position:'left',
    axisLine:{show:true, onZero:false, lineStyle:{color:AX, width:1}},
    axisTick:{inside:true, length:9, lineStyle:{color:AX}},
    axisLabel:{fontFamily:FONT, fontSize:10, color:'#333', margin:5, formatter:fmt},
    splitLine:{show:true, lineStyle:{color:'#e2e2e2', width:1}},
    name:Y_NAME, nameLocation:'middle', nameGap:24, nameRotate:90, nameMoveOverlap:false,
    nameTextStyle:{fontFamily:FONT, fontSize:17, color:AX}});
  yAxes.push({gridIndex:gi, type:'value', min:YRANGES[gi][0], max:YRANGES[gi][1], interval:STEP, position:'right',
    axisLine:{show:false, onZero:false}, axisTick:{inside:true, length:9, lineStyle:{color:AX}},
    axisLabel:{show:false}, splitLine:{show:false}});
});

const DATA = [[TOP_X, TOP_Y, TOP_Z], [BOT_X, BOT_Y, BOT_Z]];
const series = [];
DATA.forEach((set, gi) => set.forEach((d, si) => {
  series.push({type:'line', name:SERIES_NAMES[si], xAxisIndex:gi*2, yAxisIndex:gi*2, data:d,
    showSymbol:false, symbol:'none', lineStyle:{color:COLORS[si], width:1}, itemStyle:{color:COLORS[si]},
    animation:false, silent:true, z:2+si});
}));

const legendBase = {orient:'vertical', itemWidth:33, itemHeight:10, itemGap:4, padding:[5,4,5,7],
  backgroundColor:'#fff', borderColor:'#404040', borderWidth:1, borderRadius:0, selectedMode:false,
  itemStyle:{opacity:0}, lineStyle:{width:1},
  textStyle:{fontFamily:FONT, fontSize:10, color:AX}, data:SERIES_NAMES, z:10};

chart.setOption({
  animation:false,
  backgroundColor:'#fff',
  title: TITLES.map((t, i) => ({text:t, left:510, top: i === 0 ? 15 : 284, textAlign:'center', padding:0,
    textStyle:{fontFamily:FONT, fontSize:20, fontWeight:'bold', color:'#111'}})),
  grid: GRIDS.map(g => Object.assign({show:true, borderColor:AX, borderWidth:1, backgroundColor:'transparent'}, g)),
  xAxis: xAxes, yAxis: yAxes,
  legend: [Object.assign({left:816, top:70}, legendBase), Object.assign({left:818, top:368}, legendBase)],
  series: series
});
</script></body></html>
